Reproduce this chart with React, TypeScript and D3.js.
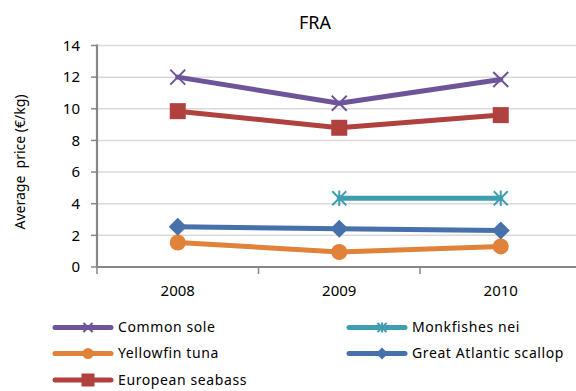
import React from "react";
import * as d3 from "d3";

const years = ["2008", "2009", "2010"];
const commonSole = [12.0, 10.35, 11.85];
const monkfishesNei: (number | null)[] = [null, 4.35, 4.35];
const yellowfinTuna = [1.55, 0.95, 1.3];
const greatAtlanticScallop = [2.55, 2.42, 2.3];
const europeanSeabass = [9.85, 8.8, 9.6];
const yTicks = [0, 2, 4, 6, 8, 10, 12, 14];

type Series = { name: string; values: (number | null)[]; color: string; marker: string };

const series: Series[] = [
  { name: "Common sole", values: commonSole, color: "#6e5499", marker: "x" },
  { name: "Monkfishes nei", values: monkfishesNei, color: "#3f9db2", marker: "star" },
  { name: "Yellowfin tuna", values: yellowfinTuna, color: "#e0823a", marker: "circle" },
  { name: "Great Atlantic scallop", values: greatAtlanticScallop, color: "#4671aa", marker: "diamond" },
  { name: "European seabass", values: europeanSeabass, color: "#b1413f", marker: "square" },
];

const FONT = "'Noto Sans', 'Open Sans', sans-serif";

function Marker({ type, x, y, color, s }: { type: string; x: number; y: number; color: string; s: number }) {
  const h = s / 2;
  if (type === "x") {
    return (
      <path d={`M${x - h},${y - h}L${x + h},${y + h}M${x - h},${y + h}L${x + h},${y - h}`} stroke={color} strokeWidth={2} fill="none" />
    );
  }
  if (type === "star") {
    return (
      <path
        d={`M${x - h},${y - h}L${x + h},${y + h}M${x - h},${y + h}L${x + h},${y - h}M${x},${y - h * 1.1}L${x},${y + h * 1.1}`}
        stroke={color}
        strokeWidth={2}
        fill="none"
      />
    );
  }
  if (type === "circle") {
    return <circle cx={x} cy={y} r={h} fill={color} />;
  }
  if (type === "diamond") {
    return <path d={`M${x},${y - h}L${x + h},${y}L${x},${y + h}L${x - h},${y}Z`} fill={color} />;
  }
  return <rect x={x - h} y={y - h} width={s} height={s} fill={color} />;
}

export default function App() {
  const W = 576;
  const H = 391;
  const x0 = 97;
  const band = 161.5;
  const x = d3.scaleBand<string>().domain(years).range([x0, x0 + band * years.length]).padding(0);
  const y = d3.scaleLinear().domain([0, 14]).range([267, 45.5]);
  const cx = (yr: string) => (x(yr) as number) + x.bandwidth() / 2;

  const line = d3
    .line<number | null>()
    .defined((d) => d !== null)
    .x((_, i) => cx(years[i]))
    .y((d) => y(d as number));

  const markerSize: Record<string, number> = { x: 15, star: 14, circle: 16, diamond: 18, square: 16 };
  const legendMarkerSize: Record<string, number> = { x: 9, star: 9, circle: 11, diamond: 12, square: 13 };

  const legendPos = [
    { lx: 55, ly: 327.5 },
    { lx: 349, ly: 327.5 },
    { lx: 55, ly: 353.5 },
    { lx: 349, ly: 353.5 },
    { lx: 55, ly: 380 },
  ];

  const xTickPositions = [...years.map((yr) => x(yr) as number), x0 + band * years.length];

  return (
    <svg width={W} height={H} style={{ position: "absolute", left: 0, top: 0, background: "#fff" }} fontFamily={FONT}>
      <rect width={W} height={H} fill="#fff" />
      {/* title */}
      <text x={315} y={29} textAnchor="middle" fontSize={18} fill="#000">
        FRA
      </text>
      {/* gridlines */}
      {yTicks.filter((t) => t > 0).map((t) => (
        <line key={t} x1={x0} x2={W} y1={y(t)} y2={y(t)} stroke="#d9d9d9" strokeWidth={1.5} />
      ))}
      {/* y axis */}
      <line x1={x0} x2={x0} y1={y(14) - 1} y2={y(0)} stroke="#878787" strokeWidth={2.2} />
      {yTicks.map((t) => (
        <g key={t}>
          <line x1={x0 - 6} x2={x0} y1={y(t)} y2={y(t)} stroke="#878787" strokeWidth={1.5} />
          <text x={80} y={y(t)} dy="0.35em" textAnchor="end" fontSize={15} fill="#000">
            {t}
          </text>
        </g>
      ))}
      {/* x axis */}
      <line x1={x0 - 1} x2={W} y1={y(0)} y2={y(0)} stroke="#878787" strokeWidth={2.2} />
      {xTickPositions.map((p, i) => (
        <line key={i} x1={p} x2={p} y1={y(0)} y2={y(0) + 7} stroke="#878787" strokeWidth={1.5} />
      ))}
      {years.map((yr) => (
        <text key={yr} x={cx(yr)} y={291} dy="0.35em" textAnchor="middle" fontSize={15} fill="#000">
          {yr}
        </text>
      ))}
      {/* y title */}
      <text
        transform={`translate(20,162) rotate(-90)`}
        textAnchor="middle"
        dy="0.35em"
        fontSize={14}
        fill="#000"
        style={{ whiteSpace: "pre" }}
      >
        {"Average  price (€/kg)"}
      </text>
      {/* series */}
      {series.map((s) => (
        <g key={s.name}>
          <path d={line(s.values) || ""} fill="none" stroke={s.color} strokeWidth={5} strokeLinejoin="round" strokeLinecap="round" />
          {s.values.map((v, i) =>
            v === null ? null : (
              <Marker key={i} type={s.marker} x={cx(years[i])} y={y(v)} color={s.color} s={markerSize[s.marker]} />
            )
          )}
        </g>
      ))}
      {/* legend */}
      {series.map((s, i) => {
        const { lx, ly } = legendPos[i];
        return (
          <g key={s.name}>
            <line x1={lx} x2={lx + 56} y1={ly} y2={ly} stroke={s.color} strokeWidth={5} strokeLinecap="round" />
            <Marker type={s.marker} x={lx + 33} y={ly} color={s.color} s={legendMarkerSize[s.marker]} />
            <text x={lx + 63} y={ly} dy="0.35em" fontSize={14} letterSpacing={0.6} fill="#000">
              {s.name}
            </text>
          </g>
        );
      })}
    </svg>
  );
}
